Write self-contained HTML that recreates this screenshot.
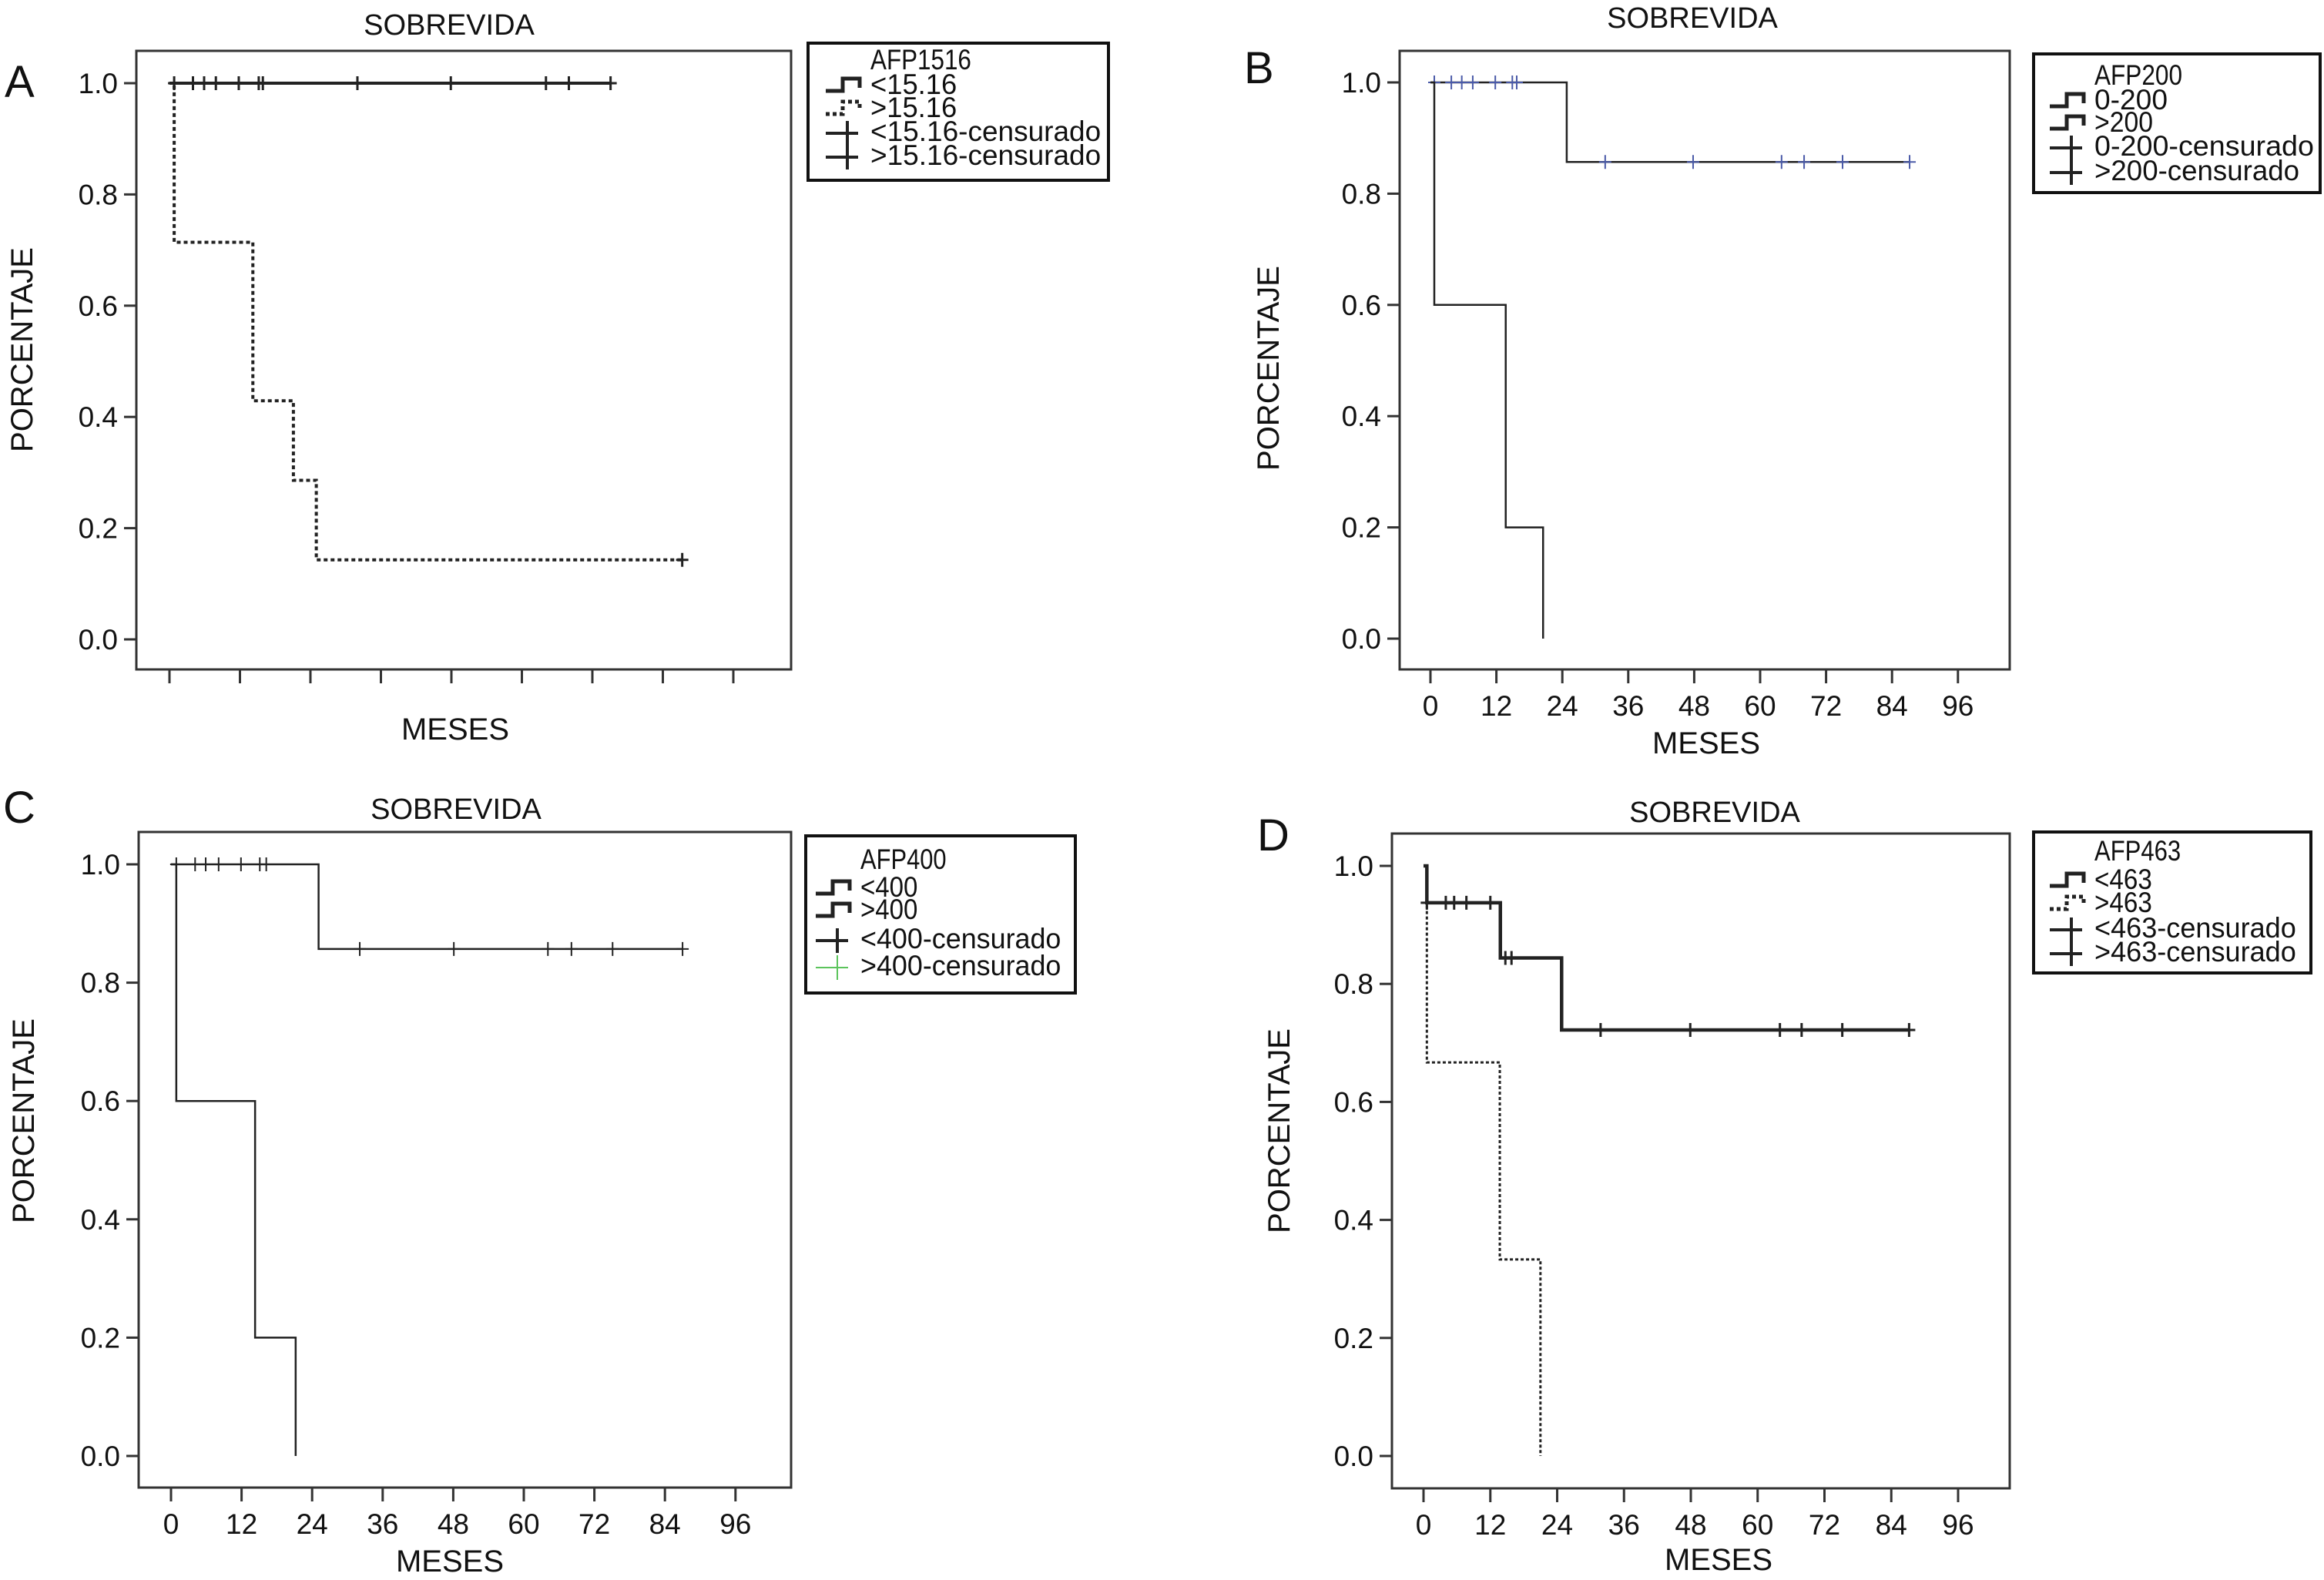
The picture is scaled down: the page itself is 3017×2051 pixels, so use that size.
<!DOCTYPE html>
<html><head><meta charset="utf-8">
<style>
html,body{margin:0;padding:0;background:#fff;}
svg{display:block;}
text{font-family:"Liberation Sans",sans-serif;fill:#111;}
</style></head>
<body>
<svg id="fig" width="3017" height="2051" viewBox="0 0 3017 2051" xmlns="http://www.w3.org/2000/svg"></svg>
<script>
// ---------- DATA ----------
const xTickLabels = ["0","12","24","36","48","60","72","84","96"];
const yTickLabels = ["0.0","0.2","0.4","0.6","0.8","1.0"];
const yTickValues = [0,0.2,0.4,0.6,0.8,1.0];
const xTickValues = [0,12,24,36,48,60,72,84,96];

// Panel A
const aLowTimes = [0, 75.1];
const aLowSurv = [1.0, 1.0];
const aLowCensor = [0.8,4,5.9,7.9,11.8,15.2,15.9,32,47.9,64.1,68,75.1];
const aHighTimes = [0, 0.8, 14.2, 21.1, 25, 87.3];
const aHighSurv = [1.0, 0.714, 0.429, 0.286, 0.143, 0.143];
const aHighCensor = [87.3];

// Panel B
const bLowTimes = [0, 24.8, 87.2];
const bLowSurv = [1.0, 0.857, 0.857];
const bLowCensor = [0.7,3.8,5.7,7.7,11.8,14.9,15.7,31.8,47.8,63.9,68,75,87.2];
const bHighTimes = [0, 0.7, 13.7, 20.5];
const bHighSurv = [1.0, 0.6, 0.2, 0.0];

// Panel C
const cLowTimes = [0, 25.1, 87];
const cLowSurv = [1.0, 0.857, 0.857];
const cLowCensor = [0.9,4.1,5.9,8.1,11.9,15.1,16.2,32.1,48.1,64.1,68.1,75.1,87];
const cHighTimes = [0, 0.9, 14.3, 21.2];
const cHighSurv = [1.0, 0.6, 0.2, 0.0];

// Panel D
const dLowTimes = [0, 0.6, 13.8, 24.8, 87.2];
const dLowSurv = [1.0, 0.9375, 0.844, 0.722, 0.722];
const dLowCensor = [0.6,4,5.5,7.7,12,14.7,15.8,31.8,47.9,64,67.9,75.2,87.2];
const dHighTimes = [0, 0.6, 13.7, 21];
const dHighSurv = [1.0, 0.667, 0.333, 0.0];

// ---------- DRAW ----------
const NS = "http://www.w3.org/2000/svg";
const svg = document.getElementById("fig");
function mk(tag, attrs, parent){
  const e = document.createElementNS(NS, tag);
  for (const k in attrs) e.setAttribute(k, attrs[k]);
  (parent||svg).appendChild(e);
  return e;
}

function panel(P){
  const g = mk("g", {});
  
  
  const sx = t => P.x0 + t / 12 * P.step;
  const sy = v => P.y0 + (P.y1 - P.y0) * v;
  const box = mk("rect", {x:P.bx0, y:P.by0, width:P.bx1-P.bx0, height:P.by1-P.by0, fill:"none", stroke:"#333", "stroke-width":3}, g);
  
  
  yTickValues.forEach((v,i)=>{
    const y = sy(v);
    const tk = mk("line",{x1:P.bx0-16,x2:P.bx0,y1:y,y2:y,stroke:"#333","stroke-width":3},g);
    
    
    const t = mk("text",{x:P.bx0-24,y:y+13,"text-anchor":"end","font-size":37},g);
    t.textContent = yTickLabels[i];
    
    
  });
  xTickValues.forEach((v,i)=>{
    const x = sx(v);
    const tk = mk("line",{x1:x,x2:x,y1:P.by1,y2:P.by1+18,stroke:"#333","stroke-width":3},g);
    
    
    if (P.xlabels){
      const t = mk("text",{x:x,y:P.by1+60,"text-anchor":"middle","font-size":37},g);
      t.textContent = xTickLabels[i];
      
      
    }
  });
  const ti = mk("text",{x:P.titleX,y:P.titleY,"text-anchor":"middle","font-size":38},g);
  ti.textContent = "SOBREVIDA";
  
  
  const lt = mk("text",{x:P.letX,y:P.letY,"font-size":58},g);
  lt.textContent = P.id;
  
  
  const yl = mk("text",{x:0,y:0,"text-anchor":"middle","font-size":40,transform:`translate(${P.ylX},${P.ylY}) rotate(-90)`},g);
  yl.textContent = "PORCENTAJE";
  
  
  const xl = mk("text",{x:P.xlX,y:P.xlY,"text-anchor":"middle","font-size":40},g);
  xl.textContent = "MESES";
  
  
  P.series.forEach(S=>{
    let d = "";
    for (let i=0;i<S.times.length;i++){
      const x = sx(S.times[i]), y = sy(S.surv[i]);
      if (i===0) d += `M${x},${y}`;
      else d += ` H${x} V${y}`;
    }
    const p = mk("path",{d:d,fill:"none",stroke:S.color,"stroke-width":S.w,"stroke-dasharray":S.dash||"none"},g);
    
    
    (S.censor||[]).forEach(t=>{
      let v = S.surv[0];
      for (let i=0;i<S.times.length;i++) if (S.times[i] <= t) v = S.surv[i];
      const x = sx(t), y = sy(v);
      const c = mk("path",{d:`M${x},${y-9} V${y+9} M${x-8},${y} H${x+8}`,stroke:S.ccolor||S.color,"stroke-width":S.cw||3,fill:"none"},g);
      
      
    });
  });
  const L = P.legend;
  const lb = mk("rect",{x:L.x0,y:L.y0,width:L.x1-L.x0,height:L.y1-L.y0,fill:"#fff",stroke:"#111","stroke-width":4},g);
  
  
  L.items.forEach((it,i)=>{
    const y = L.base[i];
    const t = mk("text",{x:L.tx,y:y,"font-size":37,textLength:it.label.length*L.cw,lengthAdjust:"spacingAndGlyphs"},g);
    t.textContent = it.label;
    
    
    if (it.sym === "step"){
      const sxx = L.tx - 58;
      const s = mk("path",{d:`M${sxx},${y-4} H${sxx+22} V${y-20} H${sxx+44} V${y-8}`,fill:"none",stroke:"#222","stroke-width":5,"stroke-dasharray":it.dash||"none"},g);
      
      
    } else if (it.sym === "plus"){
      const cx = L.tx - 30;
      const s = mk("path",{d:`M${cx-28},${y-10} H${cx+14} M${cx},${y-26} V${y+6}`,fill:"none",stroke:it.color||"#222","stroke-width":it.color?2:4},g);
      
      
    }
  });
}

panel({id:"A", bx0:177,bx1:1027,by0:66,by1:869, x0:220, step:91.5, y0:830, y1:108, xlabels:false,
  titleX:583,titleY:45, letX:6,letY:126, ylX:42,ylY:454, xlX:591,xlY:960,
  series:[
    {name:"series-lt-15.16", times:aLowTimes, surv:aLowSurv, censor:aLowCensor, color:"#222", w:4},
    {name:"series-gt-15.16", times:aHighTimes, surv:aHighSurv, censor:aHighCensor, color:"#222", w:4, dash:"5,4"}
  ],
  legend:{x0:1049,x1:1439,y0:56,y1:234,tx:1130,cw:18.7,base:[90,122,152,183,214],
    items:[{label:"AFP1516"},{label:"<15.16",sym:"step"},{label:">15.16",sym:"step",dash:"5,4"},{label:"<15.16-censurado",sym:"plus"},{label:">15.16-censurado",sym:"plus"}]}
});

panel({id:"B", bx0:1817,bx1:2609,by0:66,by1:869, x0:1857, step:85.6, y0:829, y1:107, xlabels:true,
  titleX:2197,titleY:36, letX:1615,letY:108, ylX:1660,ylY:478, xlX:2215,xlY:978,
  series:[
    {name:"series-0-200", times:bLowTimes, surv:bLowSurv, censor:bLowCensor, color:"#222", w:2.5, ccolor:"#4a5aa8", cw:2},
    {name:"series-gt-200", times:bHighTimes, surv:bHighSurv, color:"#222", w:2.5}
  ],
  legend:{x0:2640,x1:3012,y0:70,y1:250,tx:2719,cw:19.0,base:[110,142,171,202,234],
    items:[{label:"AFP200"},{label:"0-200",sym:"step"},{label:">200",sym:"step"},{label:"0-200-censurado",sym:"plus"},{label:">200-censurado",sym:"plus"}]}
});

panel({id:"C", bx0:180,bx1:1027,by0:1080,by1:1931, x0:222, step:91.6, y0:1890, y1:1122, xlabels:true,
  titleX:592,titleY:1063, letX:4,letY:1068, ylX:44,ylY:1455, xlX:584,xlY:2040,
  series:[
    {name:"series-lt-400", times:cLowTimes, surv:cLowSurv, censor:cLowCensor, color:"#222", w:2.5, cw:2},
    {name:"series-gt-400", times:cHighTimes, surv:cHighSurv, color:"#222", w:2.5}
  ],
  legend:{x0:1046,x1:1396,y0:1085,y1:1289,tx:1117,cw:18.6,base:[1128,1164,1193,1231,1266],
    items:[{label:"AFP400"},{label:"<400",sym:"step"},{label:">400",sym:"step"},{label:"<400-censurado",sym:"plus"},{label:">400-censurado",sym:"plus",color:"#5cc45c"}]}
});

panel({id:"D", bx0:1807,bx1:2609,by0:1082,by1:1932, x0:1848, step:86.75, y0:1890, y1:1124, xlabels:true,
  titleX:2226,titleY:1067, letX:1632,letY:1104, ylX:1674,ylY:1468, xlX:2231,xlY:2038,
  series:[
    {name:"series-lt-463", times:dLowTimes, surv:dLowSurv, censor:dLowCensor, color:"#222", w:4.5},
    {name:"series-gt-463", times:dHighTimes, surv:dHighSurv, color:"#222", w:3, dash:"4,3"}
  ],
  legend:{x0:2640,x1:3000,y0:1080,y1:1263,tx:2719,cw:18.7,base:[1117,1154,1184,1217,1248],
    items:[{label:"AFP463"},{label:"<463",sym:"step"},{label:">463",sym:"step",dash:"5,4"},{label:"<463-censurado",sym:"plus"},{label:">463-censurado",sym:"plus"}]}
});
</script>
</body></html>
